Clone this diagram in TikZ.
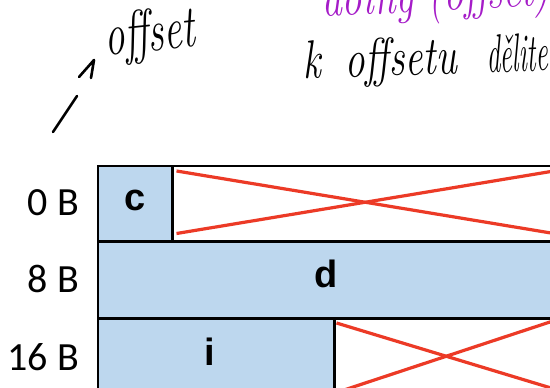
\documentclass[tikz,border=0pt]{standalone}
\usepackage{fontspec}
\newfontfamily\labelfont{Carlito}
\newfontfamily\fieldfont{Liberation Sans}
\usepackage{graphicx}
\usepackage{tikz}
\usetikzlibrary{positioning}

\definecolor{fieldblue}{RGB}{189,215,238}
\definecolor{crossred}{RGB}{236,58,38}
\definecolor{inkpurple}{RGB}{165,28,200}

\begin{document}
\begin{tikzpicture}[x=1pt,y=-1pt,
    field/.style={draw=black, line width=1.5pt, fill=fieldblue, inner sep=0pt,
      minimum height=75pt, text height=28pt, text depth=13pt,
      font=\fieldfont\bfseries\fontsize{38}{40}\selectfont},
    gap/.style={draw=black, line width=1.5pt, fill=white, inner sep=0pt, minimum height=75pt},
    offs/.style={inner sep=0pt, text height=30pt, text depth=5pt,
      font=\labelfont\fontsize{40}{44}\selectfont},
    cross/.style={crossred, line width=3.2pt},
    ink/.style={line width=2.6pt, line cap=round, line join=round},
    hand/.style={inner sep=0pt, font=\itshape\fontsize{40}{44}\selectfont}]
    \useasboundingbox (0,0) rectangle (550,388);

    % Row 0 B: char c, then padding
    \node[field, minimum width=74pt, anchor=north west] (c) at (97,165) {c};
    \node[gap, minimum width=382pt, right=0pt of c] (pad0) {};
    \draw[cross] ([xshift=4pt,yshift=-6pt]pad0.north west) -- ([xshift=-2pt,yshift=8pt]pad0.south east);
    \draw[cross] ([xshift=4pt,yshift=8pt]pad0.south west) -- ([xshift=-2pt,yshift=-6pt]pad0.north east);

    % Row 8 B: double d
    \node[field, minimum width=456pt, below=0pt of c.south west, anchor=north west] (d) {d};

    % Row 16 B: int i, then padding
    \node[field, minimum width=236pt, minimum height=78pt, below=0pt of d.south west, anchor=north west] (i) {i\kern12pt};
    \node[gap, minimum width=220pt, minimum height=78pt, right=0pt of i] (pad16) {};
    \draw[cross] ([xshift=2pt,yshift=-5pt]pad16.north west) -- ([yshift=8pt]pad16.south east);
    \draw[cross] ([xshift=2pt,yshift=5pt]pad16.south west) -- ([yshift=-2pt]pad16.north east);

    % Offsets
    \node[offs, left=18pt of c] (off0) {0 B};
    \node[offs, left=18pt of d] (off8) {8 B};
    \node[offs, left=18pt of i] (off16) {16 B};

    % Handwritten notes
    \coordinate (tail) at (53,132);
    \coordinate (tip) at (77,96);
    \draw[ink] (tail) -- (tip);
    \draw[ink] (79,77) -- (94,60) -- (91,78);
    \node[hand, anchor=base west, rotate=6] (offnote) at (106,56) {\scalebox{1}[1.5]{offset}};
    \node[hand, inkpurple, anchor=base west, rotate=3] (purplenote) at (322,17) {\scalebox{1}[1.3]{doing (offset)}};
    \node[hand, anchor=base west, rotate=2] (blacknote) at (303,79)
      {\scalebox{1}[1.35]{k\hspace{24pt}offsetu\hspace{30pt}\scalebox{0.68}[1]{dělite}}};
\end{tikzpicture}
\end{document}
